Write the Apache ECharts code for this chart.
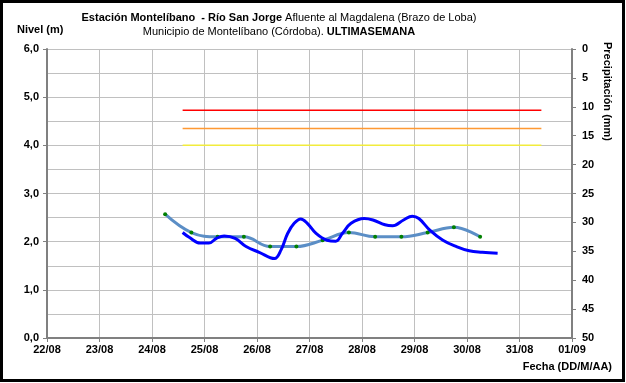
<!DOCTYPE html>
<html>
<head>
<meta charset="utf-8">
<script src="https://cdn.jsdelivr.net/npm/echarts@6/dist/echarts.min.js"></script>
<style>
  html, body { margin: 0; padding: 0; background: #fff; }
  #chart { width: 626px; height: 383px; }
</style>
</head>
<body>
<div id="chart"></div>
<script>
// Day ticks on the time axis (day 0 = 22/08 00:00)
var xTickLabels = ['22/08', '23/08', '24/08', '25/08', '26/08', '27/08', '28/08', '29/08', '30/08', '31/08', '01/09'];
var firstDay = 22; // 22/08

// Hourly river level (m), sampled along the week
var nivelTimes = ['24/08 14:00', '24/08 17:00', '24/08 22:00', '25/08 02:00', '25/08 05:30', '25/08 09:00',
  '25/08 14:00', '25/08 19:00', '26/08 01:00', '26/08 08:00', '26/08 11:00', '26/08 14:00', '26/08 17:00',
  '26/08 20:00', '26/08 23:00', '27/08 03:00', '27/08 08:00', '27/08 12:00', '27/08 15:00', '27/08 19:00',
  '28/08 01:00', '28/08 05:00', '28/08 10:30', '28/08 14:00', '28/08 19:00', '28/08 23:00', '29/08 02:00',
  '29/08 07:00', '29/08 13:00', '29/08 19:00', '30/08 01:00', '30/08 07:00', '30/08 14:00'];
var nivelValues = [2.19, 2.09, 1.97, 1.97, 2.07, 2.12,
  2.07, 1.90, 1.78, 1.65, 1.83, 2.17, 2.38,
  2.47, 2.38, 2.17, 2.03, 2.01, 2.17, 2.38,
  2.48, 2.45, 2.35, 2.33, 2.45, 2.53, 2.48,
  2.24, 2.03, 1.90, 1.81, 1.78, 1.76];

// Twice-daily gauge readings (06:00 and 18:00)
var lecturaTimes = ['24/08 06:00', '24/08 18:00', '25/08 06:00', '25/08 18:00', '26/08 06:00', '26/08 18:00',
  '27/08 06:00', '27/08 18:00', '28/08 06:00', '28/08 18:00', '29/08 06:00', '29/08 18:00', '30/08 06:00'];
var lecturaValues = [2.57, 2.19, 2.10, 2.10, 1.90, 1.90, 2.03, 2.19, 2.10, 2.10, 2.19, 2.30, 2.10];

// Alert thresholds (m)
var alertStart = '24/08 14:00';
var alertEnd = '31/08 10:00';
var alertRoja = 4.73;
var alertNaranja = 4.35;
var alertAmarilla = 4.00;

// Level axis and precipitation axis ticks
var nivelMin = 0, nivelMax = 6, nivelStep = 1;
var precipMin = 0, precipMax = 50, precipStep = 5;

// 'DD/MM HH:MM' -> days since 22/08 00:00
function toDay(s) {
  var parts = s.split(' ');
  var dm = parts[0].split('/');
  var hm = parts[1].split(':');
  var d = parseInt(dm[0], 10), m = parseInt(dm[1], 10);
  var dayIndex = (m === 8) ? d - firstDay : d + (31 - firstDay);
  return dayIndex + (parseInt(hm[0], 10) + parseInt(hm[1], 10) / 60) / 24;
}
function pairs(times, values) {
  return times.map(function (t, i) { return [toDay(t), values[i]]; });
}
function alertLine(v) { return [[toDay(alertStart), v], [toDay(alertEnd), v]]; }

var FONT = '"Liberation Sans", Arial, sans-serif';
var axisGray = '#808080';

var chart = echarts.init(document.getElementById('chart'), null, { renderer: 'canvas' });
chart.setOption({
  animation: false,
  backgroundColor: '#ffffff',
  textStyle: { fontFamily: FONT },
  title: {
    left: 274,
    top: 6,
    textAlign: 'center',
    text: '{b|Estación Montelíbano  - Río San Jorge} {n|Afluente al Magdalena (Brazo de Loba)}\n{n|Municipio de Montelíbano (Córdoba).} {b|ULTIMASEMANA}',
    textStyle: {
      fontSize: 11,
      fontWeight: 'normal',
      lineHeight: 14,
      rich: {
        b: { fontFamily: FONT, fontSize: 11, fontWeight: 'bold', color: '#000', lineHeight: 14 },
        n: { fontFamily: FONT, fontSize: 11, fontWeight: 'normal', color: '#000', lineHeight: 14 }
      }
    }
  },
  grid: { left: 47, right: 54, top: 49, bottom: 45, containLabel: false },
  xAxis: {
    type: 'value',
    min: 0,
    max: xTickLabels.length - 1,
    interval: 1,
    axisLine: { show: true, onZero: false, lineStyle: { color: axisGray, width: 2 } },
    axisTick: { show: true, inside: false, length: 4, lineStyle: { color: axisGray } },
    splitLine: { show: true, lineStyle: { color: '#c0c0c0', width: 1 } },
    axisLabel: {
      color: '#000', fontWeight: 'bold', fontSize: 11, fontFamily: FONT, margin: 6,
      formatter: function (v) { return xTickLabels[Math.round(v)] || ''; }
    }
  },
  yAxis: [{
    type: 'value',
    min: nivelMin,
    max: nivelMax,
    interval: nivelStep,
    axisLine: { show: true, lineStyle: { color: axisGray, width: 2 } },
    axisTick: { show: true, length: 4, lineStyle: { color: axisGray } },
    splitLine: { show: true, lineStyle: { color: '#c0c0c0', width: 1 } },
    minorTick: { show: false, splitNumber: 2 },
    minorSplitLine: { show: true, lineStyle: { color: '#c0c0c0', width: 1 } },
    axisLabel: {
      color: '#000', fontWeight: 'bold', fontSize: 11, fontFamily: FONT, margin: 8,
      formatter: function (v) { return v.toFixed(1).replace('.', ','); }
    }
  }, {
    type: 'value',
    position: 'right',
    inverse: true,
    min: precipMin,
    max: precipMax,
    interval: precipStep,
    axisLine: { show: true, lineStyle: { color: axisGray, width: 2 } },
    axisTick: { show: true, length: 4, lineStyle: { color: axisGray } },
    splitLine: { show: false },
    axisLabel: { color: '#000', fontWeight: 'bold', fontSize: 11, fontFamily: FONT, margin: 10 }
  }],
  series: [
    {
      name: 'Alerta roja', type: 'line', data: alertLine(alertRoja), symbol: 'none',
      lineStyle: { color: '#ff0000', width: 1.5 }, silent: true
    },
    {
      name: 'Alerta naranja', type: 'line', data: alertLine(alertNaranja), symbol: 'none',
      lineStyle: { color: '#ff9933', width: 1.5 }, silent: true
    },
    {
      name: 'Alerta amarilla', type: 'line', data: alertLine(alertAmarilla), symbol: 'none',
      lineStyle: { color: '#f2ec3c', width: 1.5 }, silent: true
    },
    {
      name: 'Lecturas', type: 'line', data: pairs(lecturaTimes, lecturaValues), smooth: 0.4,
      symbol: 'circle', symbolSize: 4,
      itemStyle: { color: '#008000', borderWidth: 0 },
      lineStyle: { color: '#5b8ec6', width: 3 }, z: 3
    },
    {
      name: 'Nivel', type: 'line', data: pairs(nivelTimes, nivelValues), smooth: 0.4,
      symbol: 'none',
      lineStyle: { color: '#0000ff', width: 3 }, z: 4
    }
  ],
  graphic: [
    {
      type: 'text', left: 17, top: 24,
      style: { text: 'Nivel (m)', font: 'bold 11px ' + FONT, fill: '#000' }
    },
    {
      type: 'text', x: 607, y: 42, rotation: -Math.PI / 2,
      style: { text: 'Precipitación (mm)', font: 'bold 11px ' + FONT, fill: '#000', align: 'left', verticalAlign: 'middle' }
    },
    {
      type: 'text', x: 612, y: 367,
      style: { text: 'Fecha (DD/M/AA)', font: 'bold 11px ' + FONT, fill: '#000', align: 'right', verticalAlign: 'middle' }
    },
    {
      type: 'rect', shape: { x: 1.5, y: 1.5, width: 622, height: 379 },
      style: { fill: 'none', stroke: '#000', lineWidth: 3 }, silent: true
    }
  ]
});
</script>
</body>
</html>
